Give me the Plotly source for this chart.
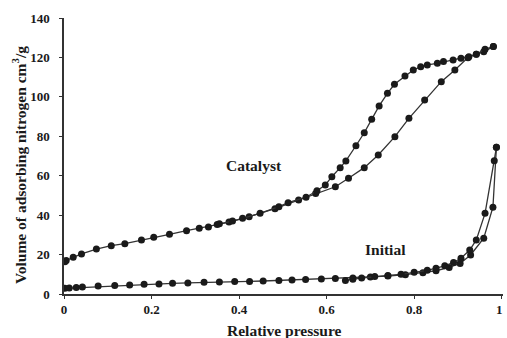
import plotly.graph_objects as go

# Catalyst adsorption branch
cat_ads_x = [0.002, 0.005, 0.021, 0.040, 0.074, 0.108, 0.139, 0.177, 0.205, 0.241, 0.280,
             0.309, 0.330, 0.350, 0.377, 0.423, 0.482, 0.536, 0.575, 0.620, 0.650, 0.686,
             0.718, 0.756, 0.788, 0.824, 0.862, 0.893, 0.923, 0.942, 0.959, 0.981]
cat_ads_y = [16.4, 17.0, 18.6, 20.3, 22.8, 24.5, 25.5, 27.4, 28.8, 30.3, 32.1,
             33.3, 34.0, 35.2, 36.5, 39.2, 43.3, 47.7, 51.0, 54.4, 58.7, 64.1,
             70.5, 79.8, 89.1, 98.4, 107.7, 113.6, 119.9, 121.6, 122.9, 125.5]
# Catalyst desorption branch
cat_des_x = [0.981, 0.962, 0.942, 0.925, 0.907, 0.889, 0.867, 0.853, 0.830, 0.815, 0.798,
             0.779, 0.755, 0.739, 0.720, 0.703, 0.686, 0.667, 0.644, 0.631, 0.612, 0.597,
             0.578, 0.553, 0.512, 0.491, 0.448, 0.408, 0.385, 0.355]
cat_des_y = [125.5, 124.2, 121.6, 120.4, 119.6, 118.7, 117.9, 117.0, 116.2, 115.3, 113.6,
             110.6, 106.4, 101.8, 95.4, 88.6, 81.8, 75.2, 67.5, 64.1, 59.5, 55.3,
             52.4, 49.1, 46.3, 44.3, 40.9, 38.4, 37.0, 35.6]

# Initial adsorption branch
ini_ads_x = [0.002, 0.012, 0.028, 0.042, 0.078, 0.116, 0.150, 0.183, 0.217, 0.248, 0.283,
             0.320, 0.355, 0.390, 0.424, 0.455, 0.491, 0.521, 0.552, 0.588, 0.620, 0.660,
             0.700, 0.740, 0.780, 0.820, 0.850, 0.880, 0.905, 0.929, 0.959, 0.980, 0.988]
ini_ads_y = [2.9, 3.0, 3.3, 3.5, 4.0, 4.3, 4.6, 4.9, 5.1, 5.4, 5.6,
             5.9, 6.1, 6.3, 6.4, 6.6, 6.9, 7.1, 7.4, 7.6, 7.9, 8.1,
             8.6, 9.1, 9.8, 10.8, 11.8, 13.5, 15.5, 19.8, 28.3, 44.0, 74.4]
# Initial desorption branch
ini_des_x = [0.988, 0.983, 0.962, 0.942, 0.927, 0.907, 0.890, 0.870, 0.850, 0.830, 0.800,
             0.770, 0.740, 0.710, 0.680, 0.660, 0.643]
ini_des_y = [74.4, 67.6, 40.9, 27.4, 22.3, 18.1, 16.0, 14.3, 13.0, 12.0, 11.0,
             10.0, 9.4, 8.9, 8.1, 7.5, 6.8]

x_ticks = [0, 0.2, 0.4, 0.6, 0.8, 1]
x_tick_labels = ["0", "0.2", "0.4", "0.6", "0.8", "1"]
y_ticks = [0, 20, 40, 60, 80, 100, 120, 140]
y_tick_labels = ["0", "20", "40", "60", "80", "100", "120", "140"]

FONT = "Liberation Serif"
INK = "#1a1a1a"
LABEL_SIZE = 15.5

fig = go.Figure()
for xs, ys in [(cat_ads_x, cat_ads_y), (cat_des_x, cat_des_y),
               (ini_ads_x, ini_ads_y), (ini_des_x, ini_des_y)]:
    fig.add_trace(go.Scatter(
        x=xs, y=ys, mode="lines+markers",
        line=dict(color="#333333", width=1.3),
        marker=dict(color=INK, size=7, symbol="circle"),
        showlegend=False, hoverinfo="skip"))

axis_common = dict(showgrid=False, zeroline=False, showline=True, linecolor="#333333",
                   linewidth=1.5, ticks="outside", ticklen=3, tickcolor="#333333",
                   ticklabeloverflow="allow",
                   tickfont=dict(family=FONT, size=13, color=INK))

# the last x tick label sits at the page edge; it is drawn as an annotation so it is never dropped
x_tick_text = ["<b>%s</b>" % t for t in x_tick_labels[:-1]] + [""]

fig.update_layout(
    width=507, height=338,
    margin=dict(l=64, r=4, t=18, b=44),
    paper_bgcolor="white", plot_bgcolor="white",
    font=dict(family=FONT, size=13, color=INK),
    xaxis=dict(range=[0, 1.003], tickvals=x_ticks, ticktext=x_tick_text, **axis_common),
    yaxis=dict(range=[0, 140], tickvals=y_ticks,
               ticktext=["<b>%s</b>" % t for t in y_tick_labels],
               ticklabelstandoff=7, **axis_common),
    annotations=[
        dict(text="<b>%s</b>" % x_tick_labels[-1], x=x_ticks[-1], y=0, xref="x", yref="paper",
             xanchor="right", yanchor="top", xshift=3, yshift=-6, showarrow=False,
             font=dict(family=FONT, size=13, color=INK)),
        dict(text="<b>Catalyst</b>", x=0.435, y=65.1, xref="x", yref="y",
             showarrow=False, font=dict(family=FONT, size=LABEL_SIZE, color=INK)),
        dict(text="<b>Initial</b>", x=0.735, y=22.8, xref="x", yref="y",
             showarrow=False, font=dict(family=FONT, size=LABEL_SIZE, color=INK)),
        dict(text="<b>Volume of adsorbing nitrogen cm<sup>3</sup>/g</b>", x=0, y=0.5,
             xref="paper", yref="paper", xshift=-45, yshift=-9, textangle=-90,
             xanchor="center", yanchor="middle", showarrow=False,
             font=dict(family=FONT, size=LABEL_SIZE, color=INK)),
        dict(text="<b>Relative pressure</b>", x=0.5, y=0, xref="paper", yref="paper",
             yshift=-36, xanchor="center", yanchor="middle", showarrow=False,
             font=dict(family=FONT, size=LABEL_SIZE, color=INK)),
    ],
)

fig.write_html("out.html", config={"displayModeBar": False},
               post_script="document.body.style.margin='0';document.body.style.padding='0';")
